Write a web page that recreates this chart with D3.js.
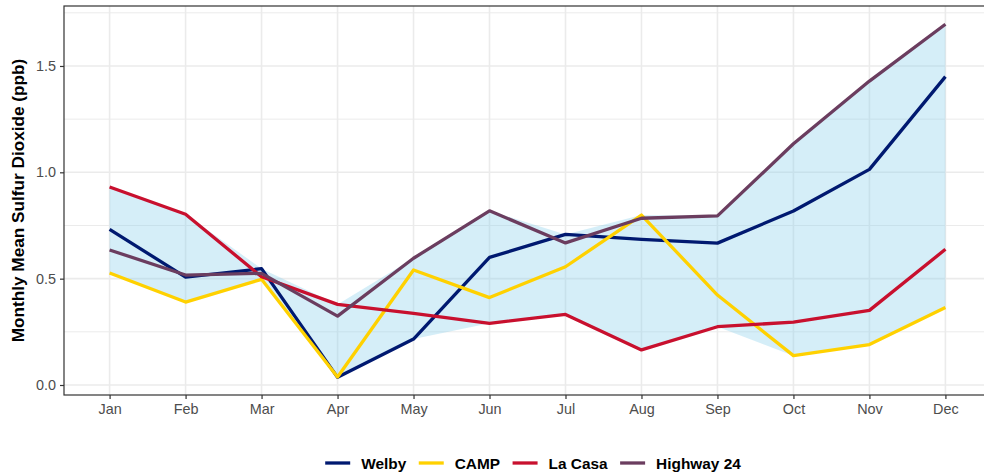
<!DOCTYPE html>
<html>
<head>
<meta charset="utf-8">
<script src="https://cdn.jsdelivr.net/npm/d3@7"></script>
<style>
  html, body { margin: 0; padding: 0; background: #fff; }
  svg { display: block; font-family: "Liberation Sans", Arial, sans-serif; }
</style>
</head>
<body>
<svg id="chart" width="984" height="474"></svg>
<script>
// ---- Data ----
const months = ["Jan","Feb","Mar","Apr","May","Jun","Jul","Aug","Sep","Oct","Nov","Dec"];
const welby     = [0.732, 0.507, 0.547, 0.036, 0.216, 0.600, 0.708, 0.685, 0.667, 0.818, 1.014, 1.450];
const camp      = [0.527, 0.390, 0.497, 0.038, 0.541, 0.411, 0.556, 0.799, 0.423, 0.138, 0.190, 0.364];
const laCasa    = [0.931, 0.803, 0.509, 0.379, 0.337, 0.290, 0.332, 0.165, 0.274, 0.296, 0.351, 0.638];
const highway24 = [0.635, 0.517, 0.525, 0.324, 0.596, 0.819, 0.668, 0.784, 0.795, 1.134, 1.429, 1.696];
const seriesNames = ["Welby", "CAMP", "La Casa", "Highway 24"];
const seriesColors = ["#001970", "#FFD100", "#C8102E", "#6B3D5F"];
const yTicks = [0.0, 0.5, 1.0, 1.5];
const yMinor = [0.25, 0.75, 1.25, 1.75];

const seriesValues = [welby, camp, laCasa, highway24];

// ---- Layout ----
const svg = d3.select("#chart");
const panel = { left: 64, top: 6, right: 991, bottom: 395 };

const x = d3.scalePoint().domain(months).range([panel.left, panel.right]).padding(0.6);
const y = d3.scaleLinear().domain([-0.047, 1.782]).range([panel.bottom, panel.top]);

// grid
const g = svg.append("g");
g.selectAll("line.minor").data(yMinor).join("line")
  .attr("x1", panel.left).attr("x2", panel.right)
  .attr("y1", d => y(d)).attr("y2", d => y(d))
  .attr("stroke", "#EBEBEB").attr("stroke-width", 1);
g.selectAll("line.majory").data(yTicks).join("line")
  .attr("x1", panel.left).attr("x2", panel.right)
  .attr("y1", d => y(d)).attr("y2", d => y(d))
  .attr("stroke", "#EBEBEB").attr("stroke-width", 1.6);
g.selectAll("line.majorx").data(months).join("line")
  .attr("x1", d => x(d)).attr("x2", d => x(d))
  .attr("y1", panel.top).attr("y2", panel.bottom)
  .attr("stroke", "#EBEBEB").attr("stroke-width", 1.6);

// ribbon: range spanned by the four stations
const ribbonData = months.map((m, i) => ({
  m,
  lo: d3.min(seriesValues, s => s[i]),
  hi: d3.max(seriesValues, s => s[i])
}));
svg.append("path").datum(ribbonData)
  .attr("d", d3.area().x(d => x(d.m)).y0(d => y(d.lo)).y1(d => y(d.hi)))
  .attr("fill", "#87CEEB").attr("fill-opacity", 0.35);

// lines
const line = d3.line().x((d, i) => x(months[i])).y(d => y(d));
seriesValues.forEach((vals, k) => {
  svg.append("path").datum(vals)
    .attr("d", line)
    .attr("fill", "none")
    .attr("stroke", seriesColors[k])
    .attr("stroke-width", 3.3)
    .attr("stroke-linejoin", "round");
});

// panel border
svg.append("rect")
  .attr("x", panel.left).attr("y", panel.top)
  .attr("width", panel.right - panel.left).attr("height", panel.bottom - panel.top)
  .attr("fill", "none").attr("stroke", "#333333").attr("stroke-width", 1.2);

// axes
const xAxis = svg.append("g").attr("transform", `translate(0,${panel.bottom})`)
  .call(d3.axisBottom(x).tickSize(4).tickPadding(5));
const yAxis = svg.append("g").attr("transform", `translate(${panel.left},0)`)
  .call(d3.axisLeft(y).tickValues(yTicks).tickFormat(d3.format(".1f")).tickSize(4).tickPadding(4));
[xAxis, yAxis].forEach(a => {
  a.select(".domain").remove();
  a.selectAll(".tick line").attr("stroke", "#333333").attr("stroke-width", 1.2);
  a.selectAll(".tick text").attr("fill", "#4D4D4D").style("font-size", "14.4px")
    .style("font-family", "'Liberation Sans', Arial, sans-serif");
});

// y title
svg.append("text")
  .attr("transform", `translate(24,${(panel.top + panel.bottom) / 2}) rotate(-90)`)
  .attr("text-anchor", "middle")
  .style("font-size", "17.2px").style("font-weight", "bold").attr("fill", "#000")
  .text("Monthly Mean Sulfur Dioxide (ppb)");

// legend
const legend = svg.append("g");
let cx = 0;
const items = [];
seriesNames.forEach((name, k) => {
  const it = legend.append("g").attr("transform", `translate(${cx},0)`);
  it.append("line").attr("x1", 0).attr("x2", 25).attr("y1", 0).attr("y2", 0)
    .attr("stroke", seriesColors[k]).attr("stroke-width", 3.3);
  const t = it.append("text").attr("x", 36).attr("y", 0).attr("dy", "0.36em")
    .style("font-size", "15.4px").style("font-weight", "bold").attr("fill", "#000")
    .text(name);
  const w = t.node().getComputedTextLength();
  cx += 36 + w + 12.5;
});
const totalW = cx - 12.5;
legend.attr("transform", `translate(${533 - totalW / 2},463)`);
</script>
</body>
</html>
